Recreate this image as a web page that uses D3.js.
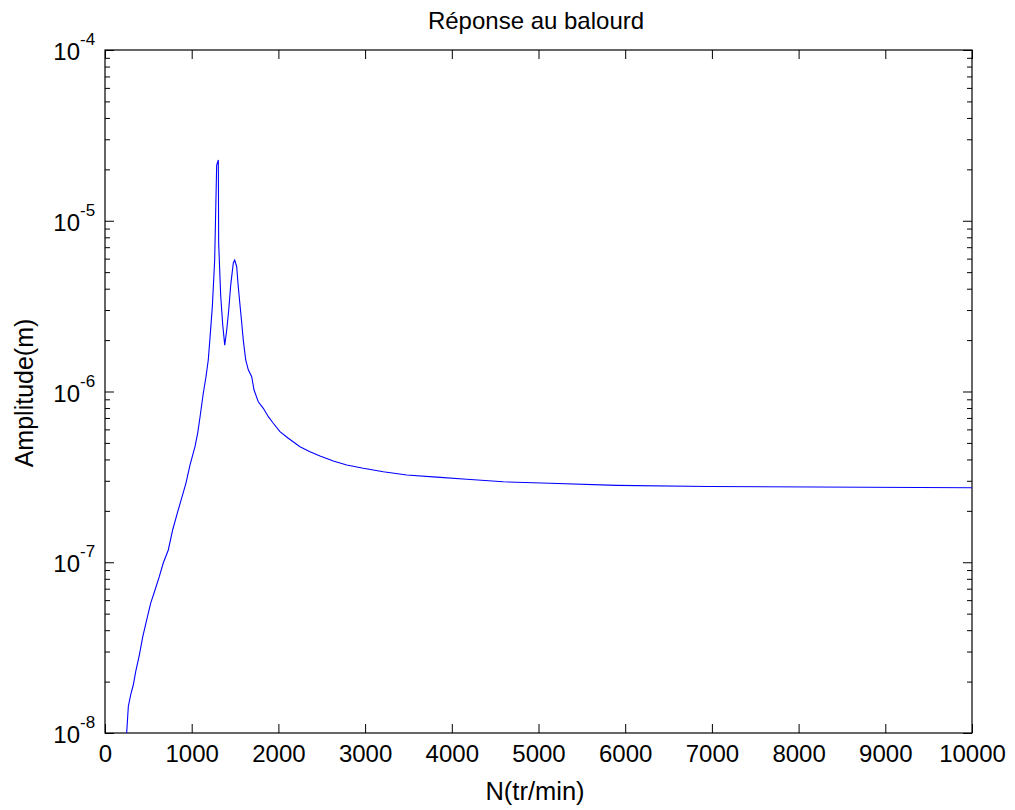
<!DOCTYPE html>
<html>
<head>
<meta charset="utf-8">
<script src="https://cdn.jsdelivr.net/npm/d3@7"></script>
<style>
  html, body { margin: 0; padding: 0; background: #ffffff; }
  svg { display: block; font-family: "Liberation Sans", Arial, sans-serif; }
</style>
</head>
<body>
<svg id="chart" width="1015" height="810"></svg>
<script>
// ---- data ----
const speedN = [250, 269, 296, 326, 354, 396, 435, 481, 527, 577, 626, 672, 730, 781, 834, 885, 934, 980, 1038, 1069, 1096, 1134, 1165, 1191, 1211, 1238, 1265, 1288, 1307, 1311, 1334, 1358, 1381, 1404, 1427, 1450, 1480, 1496, 1519, 1537, 1557, 1577, 1595, 1623, 1653, 1692, 1719, 1768, 1826, 1884, 1941, 2018, 2114, 2249, 2364, 2480, 2633, 2788, 2979, 3210, 3480, 3826, 4172, 4594, 5133, 5902, 6967, 10000];
const amplitude = [1.0e-8, 1.43e-8, 1.67e-8, 1.91e-8, 2.29e-8, 2.86e-8, 3.66e-8, 4.59e-8, 5.77e-8, 6.88e-8, 8.23e-8, 9.9e-8, 1.18e-7, 1.55e-7, 1.94e-7, 2.38e-7, 2.91e-7, 3.71e-7, 4.75e-7, 5.71e-7, 7.09e-7, 9.8e-7, 1.22e-6, 1.53e-6, 2.06e-6, 3.14e-6, 5.89e-6, 2.12e-5, 2.27e-5, 7.41e-6, 3.67e-6, 2.45e-6, 1.87e-6, 2.29e-6, 3.0e-6, 4.2e-6, 5.66e-6, 5.89e-6, 5.38e-6, 4.11e-6, 3.21e-6, 2.52e-6, 2.0e-6, 1.53e-6, 1.34e-6, 1.22e-6, 1.02e-6, 8.71e-7, 7.97e-7, 7.12e-7, 6.52e-7, 5.82e-7, 5.32e-7, 4.75e-7, 4.44e-7, 4.19e-7, 3.92e-7, 3.71e-7, 3.55e-7, 3.39e-7, 3.24e-7, 3.15e-7, 3.06e-7, 2.96e-7, 2.90e-7, 2.82e-7, 2.78e-7, 2.73e-7];
const xTicks = [0, 1000, 2000, 3000, 4000, 5000, 6000, 7000, 8000, 9000, 10000];
const yDecades = [1e-8, 1e-7, 1e-6, 1e-5, 1e-4];
const yExponents = ["-8", "-7", "-6", "-5", "-4"];
const titleText = "Réponse au balourd";
const xLabelText = "N(tr/min)";
const yLabelText = "Amplitude(m)";

// ---- layout ----
const svg = d3.select("#chart");
const pL = 105, pR = 972, pT = 50, pB = 733;
const x = d3.scaleLinear().domain([0, 10000]).range([pL, pR]);
const y = d3.scaleLog().domain([1e-8, 1e-4]).range([pB, pT]);

const majorLen = 9, minorLen = 5;
const minorY = y.ticks().filter(v => !yDecades.some(d => Math.abs(d - v) / d < 1e-9));

// bottom axis
const gB = svg.append("g").attr("transform", `translate(0,${pB})`)
  .call(d3.axisBottom(x).tickValues(xTicks).tickSize(-majorLen).tickPadding(12).tickFormat(d3.format("d")));
gB.selectAll("text").attr("font-size", 24).attr("fill", "#000").attr("font-family", "Liberation Sans, Arial, sans-serif");
// top axis
svg.append("g").attr("transform", `translate(0,${pT})`)
  .call(d3.axisTop(x).tickValues(xTicks).tickSize(-majorLen).tickFormat(""));
// left axis major
svg.append("g").attr("transform", `translate(${pL},0)`)
  .call(d3.axisLeft(y).tickValues(yDecades).tickSize(-majorLen).tickFormat(""));
// left axis minor
svg.append("g").attr("transform", `translate(${pL},0)`)
  .call(d3.axisLeft(y).tickValues(minorY).tickSize(-minorLen).tickFormat(""));
// right axis
svg.append("g").attr("transform", `translate(${pR},0)`)
  .call(d3.axisRight(y).tickValues(yDecades).tickSize(-majorLen).tickFormat(""));
svg.append("g").attr("transform", `translate(${pR},0)`)
  .call(d3.axisRight(y).tickValues(minorY).tickSize(-minorLen).tickFormat(""));

svg.selectAll(".domain").remove();
svg.selectAll(".tick line").attr("stroke", "#000").attr("stroke-width", 1);

// box
svg.append("rect").attr("x", pL).attr("y", pT)
  .attr("width", pR - pL).attr("height", pB - pT)
  .attr("fill", "none").attr("stroke", "#000").attr("stroke-width", 1.2);

// y tick labels with superscripts
yDecades.forEach((d, i) => {
  svg.append("text")
    .attr("x", pL - 25).attr("y", y(d) + 10)
    .attr("text-anchor", "end").attr("font-size", 24).attr("fill", "#000")
    .text("10");
  svg.append("text")
    .attr("x", pL - 25).attr("y", y(d) - 5)
    .attr("text-anchor", "start").attr("font-size", 17).attr("fill", "#000")
    .text(yExponents[i]);
});

// curve
const line = d3.line().x((d, i) => x(speedN[i])).y((d, i) => y(amplitude[i]));
svg.append("path").datum(amplitude)
  .attr("d", line).attr("fill", "none").attr("stroke", "#0000ff").attr("stroke-width", 1.1);

// title and labels
svg.append("text").attr("x", 536).attr("y", 29)
  .attr("text-anchor", "middle").attr("font-size", 24).attr("fill", "#000").text(titleText);
svg.append("text").attr("x", 535).attr("y", 800)
  .attr("text-anchor", "middle").attr("font-size", 25.5).attr("fill", "#000").text(xLabelText);
svg.append("text").attr("transform", `translate(33,${393}) rotate(-90)`)
  .attr("text-anchor", "middle").attr("font-size", 25).attr("fill", "#000").text(yLabelText);
</script>
</body>
</html>
